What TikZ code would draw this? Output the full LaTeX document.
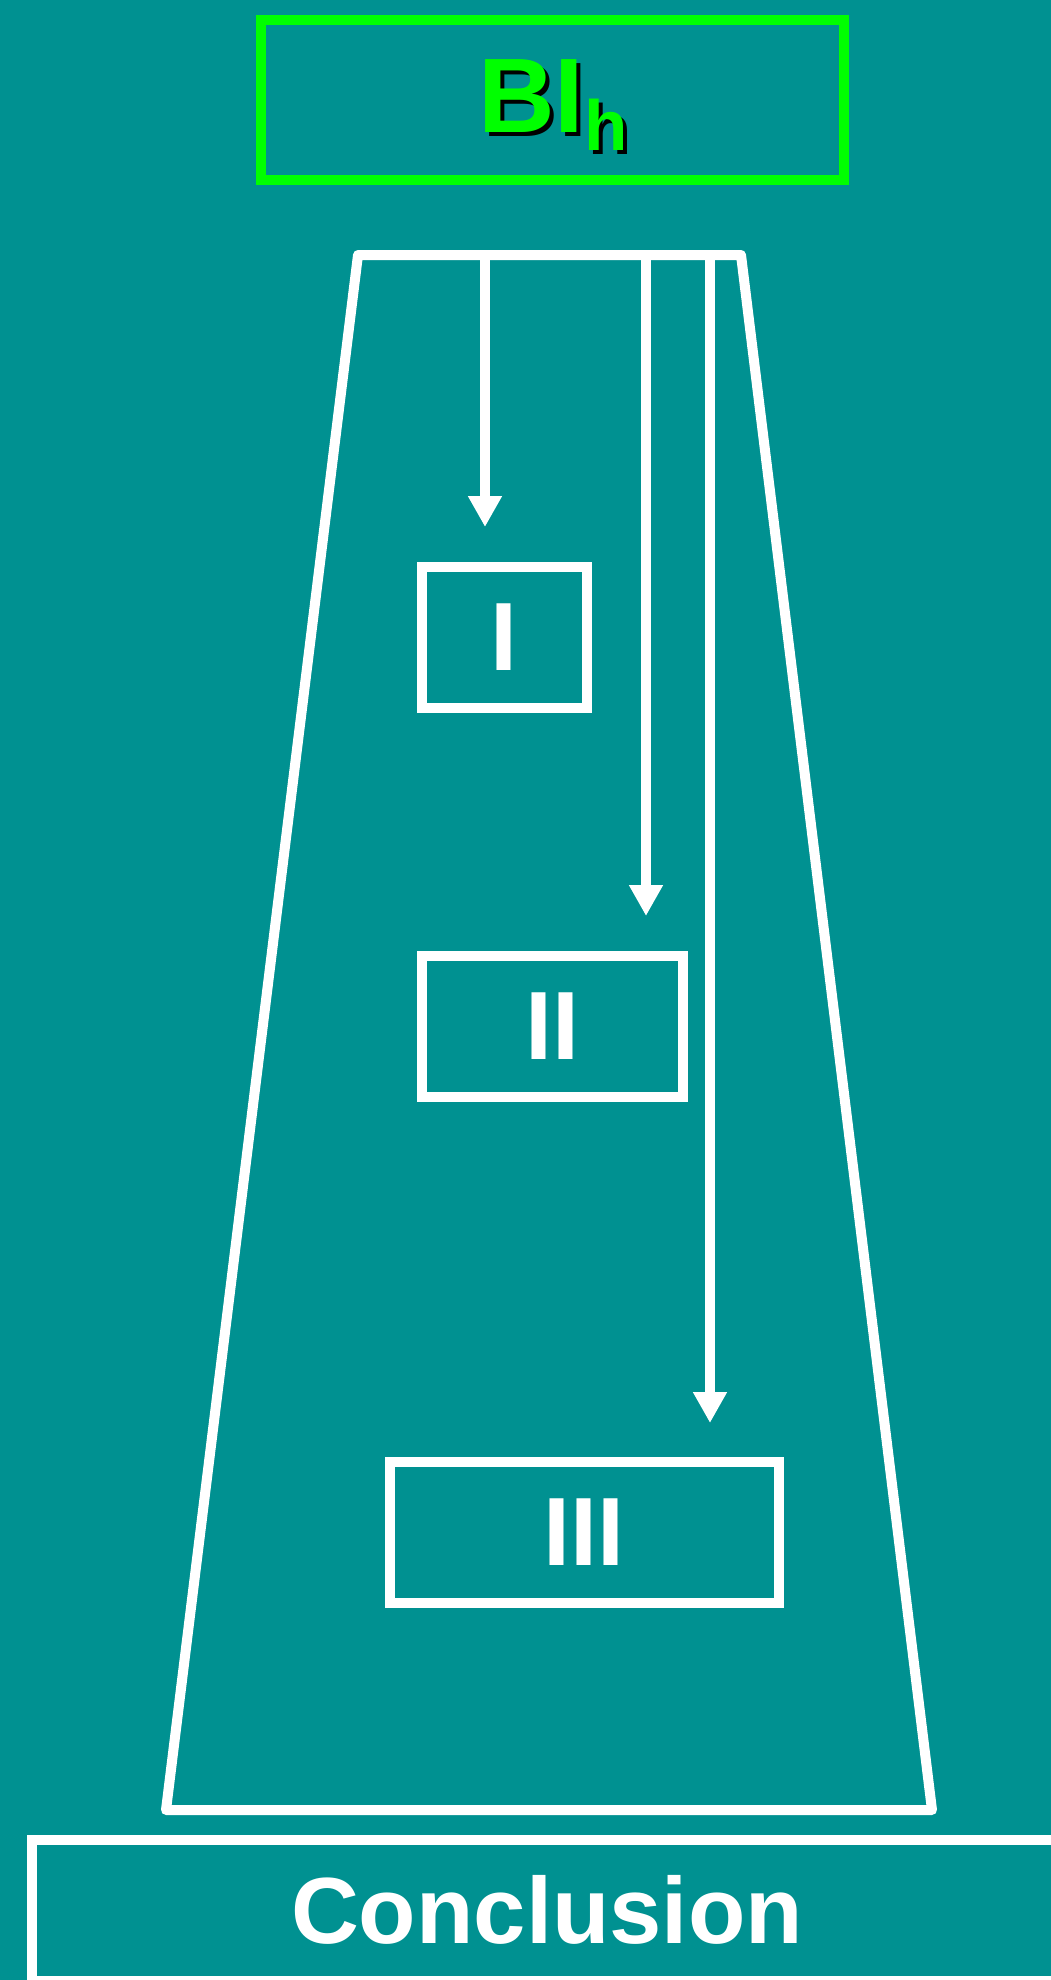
\documentclass[tikz,border=0pt]{standalone}
\usepackage{fontspec}
\setmainfont{Liberation Sans}
\usetikzlibrary{arrows.meta, positioning}
\usepackage{xcolor}
\definecolor{tealbg}{RGB}{0,145,145}
\definecolor{lgreen}{RGB}{0,255,0}
\newcommand{\titlestr}{BI\raisebox{-18pt}{\fontsize{71}{71}\selectfont h}}

\begin{document}
\begin{tikzpicture}[x=1pt, y=-1pt,
  box/.style={draw=white, line width=10pt, text=white, inner sep=0pt,
  font=\bfseries\fontsize{97}{97}\selectfont, minimum height=141pt},
  titlebox/.style={draw=lgreen, line width=10pt, inner sep=0pt,
  minimum width=583pt, minimum height=160pt},
  titletxt/.style={anchor=base, inner sep=0pt, text=lgreen,
  font=\bfseries\fontsize{106}{106}\selectfont},
  arr/.style={-{Triangle[width=32pt,length=31pt]}, white, line width=10pt}
]
\fill[tealbg] (0,0) rectangle (1051,1980);
\useasboundingbox (0,0) rectangle (1051,1980);
\clip (0,0) rectangle (1051,1980);

\node[titlebox] (title) at (552.5,100.5) {};
\node[titletxt] (titletext) at (553,133)
  {\rlap{\hspace{4pt}\raisebox{-4pt}{\color{black}\titlestr}}\titlestr};

\coordinate (tl) at (358,255);
\coordinate (tr) at (741,255);
\coordinate (br) at (932,1810);
\coordinate (bl) at (166,1810);
\draw[white, line width=10pt, line join=round] (tl) -- (tr) -- (br) -- (bl) -- cycle;

\node[box, minimum width=165pt] (one)   at (504,637)    {I};
\node[box, minimum width=261pt] (two)   at (552,1026.5) {II};
\node[box, minimum width=389pt] (three) at (584,1532.5) {III};
\node[box, font=\bfseries\fontsize{94}{94}\selectfont, minimum width=1030pt] (concl) at (547,1910) {Conclusion};

\coordinate (s1) at (485,255);
\coordinate (e1) at (485,527);
\coordinate (s2) at (646,255);
\coordinate (e2) at (646,916);
\coordinate (s3) at (710,255);
\coordinate (e3) at (710,1423);
\draw[arr] (s1) -- (e1);
\draw[arr] (s2) -- (e2);
\draw[arr] (s3) -- (e3);
\end{tikzpicture}
\end{document}
